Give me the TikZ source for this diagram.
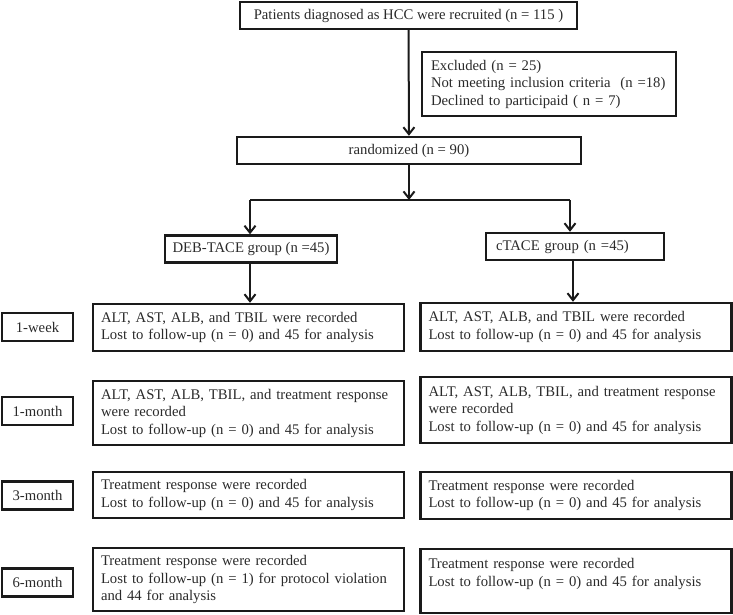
\documentclass[tikz,border=0pt]{standalone}
\usepackage{fontspec}
\setmainfont{Liberation Serif}
\usetikzlibrary{arrows.meta}
\definecolor{txt}{HTML}{2A2A2A}
\definecolor{ln}{HTML}{1A1A1A}
\begin{document}
\begin{tikzpicture}[x=1pt,y=-1pt,
  box/.style={draw=ln, line width=2.4pt, inner xsep=9pt, inner ysep=0pt, text=txt,
    font=\fontsize{14.7}{17.5}\selectfont},
  lbox/.style={box, align=left},
  cbox/.style={box, align=center},
  colbox/.style={lbox, minimum width=311pt, text width=295pt, inner xsep=8pt},
  tbox/.style={cbox, minimum width=71pt, minimum height=28pt, inner xsep=2pt},
  arr/.style={draw=ln, line width=2pt, -{Straight Barb[length=7pt,width=11pt,line width=2pt]}},
  ln/.style={draw=ln, line width=2pt}]
\useasboundingbox (0,0) rectangle (733,615);

\node[cbox, minimum width=337pt, minimum height=27pt] (top) at (408.5,15.5)
  {Patients diagnosed as HCC were recruited (n = 115 )};
\node[lbox, minimum width=254pt, minimum height=64pt, inner xsep=9pt, text width=236pt] (excl) at (549,84)
  {Excluded (n = 25)\\Not meeting inclusion criteria\ \ (n =18)\\Declined to participaid ( n = 7)};
\node[cbox, minimum width=344pt, minimum height=27pt] (rand) at (409,150.5) {randomized (n = 90)};
\node[cbox, minimum width=172pt, minimum height=27pt, inner xsep=4pt] (deb) at (251,249) {DEB-TACE group (n =45)};
\node[lbox, minimum width=178pt, minimum height=27pt, text width=158pt, inner xsep=10pt] (ctace) at (575,246.5) {cTACE group (n =45)};

\node[colbox, minimum height=47pt] (L1) at (248.5,327.5)
  {ALT, AST, ALB, and TBIL were recorded\\Lost to follow-up (n = 0) and 45 for analysis};
\node[colbox, minimum height=48pt] (R1) at (576,327)
  {ALT, AST, ALB, and TBIL were recorded\\Lost to follow-up (n = 0) and 45 for analysis};
\node[colbox, minimum height=64pt] (L2) at (248.5,413)
  {ALT, AST, ALB, TBIL, and treatment response\\were recorded\\Lost to follow-up (n = 0) and 45 for analysis};
\node[colbox, minimum height=66pt] (R2) at (576,410)
  {ALT, AST, ALB, TBIL, and treatment response\\were recorded\\Lost to follow-up (n = 0) and 45 for analysis};
\node[colbox, minimum height=46pt] (L3) at (248.5,495)
  {Treatment response were recorded\\Lost to follow-up (n = 0) and 45 for analysis};
\node[colbox, minimum height=47pt] (R3) at (576,495.5)
  {Treatment response were recorded\\Lost to follow-up (n = 0) and 45 for analysis};
\node[colbox, minimum height=63pt] (L4) at (248.5,579.5)
  {Treatment response were recorded\\Lost to follow-up (n = 1) for protocol violation\\and 44 for analysis};
\node[colbox, minimum height=64pt] (R4) at (576,581)
  {Treatment response were recorded\\Lost to follow-up (n = 0) and 45 for analysis\\\mbox{}};

\node[tbox] (W1) at (37.5,327) {1-week};
\node[tbox] (W2) at (37.5,411) {1-month};
\node[tbox] (W3) at (37.5,495.5) {3-month};
\node[tbox] (W4) at (37.5,582.5) {6-month};

\coordinate (j) at (409,200);
\coordinate (jl) at (250,200);
\coordinate (jr) at (570,200);

\draw[arr] (top) -- (rand);
\draw[arr] (rand) -- (j);
\draw[ln] (jl) -- (jr);
\draw[arr] (jl) -- (jl |- deb.north);
\draw[arr] (jr) -- (jr |- ctace.north);
\draw[arr] (deb.south -| jl) -- (jl |- L1.north);
\draw[arr] ([xshift=-2pt]ctace.south) -- ([xshift=-2pt]ctace.south |- R1.north);
\end{tikzpicture}
\end{document}
